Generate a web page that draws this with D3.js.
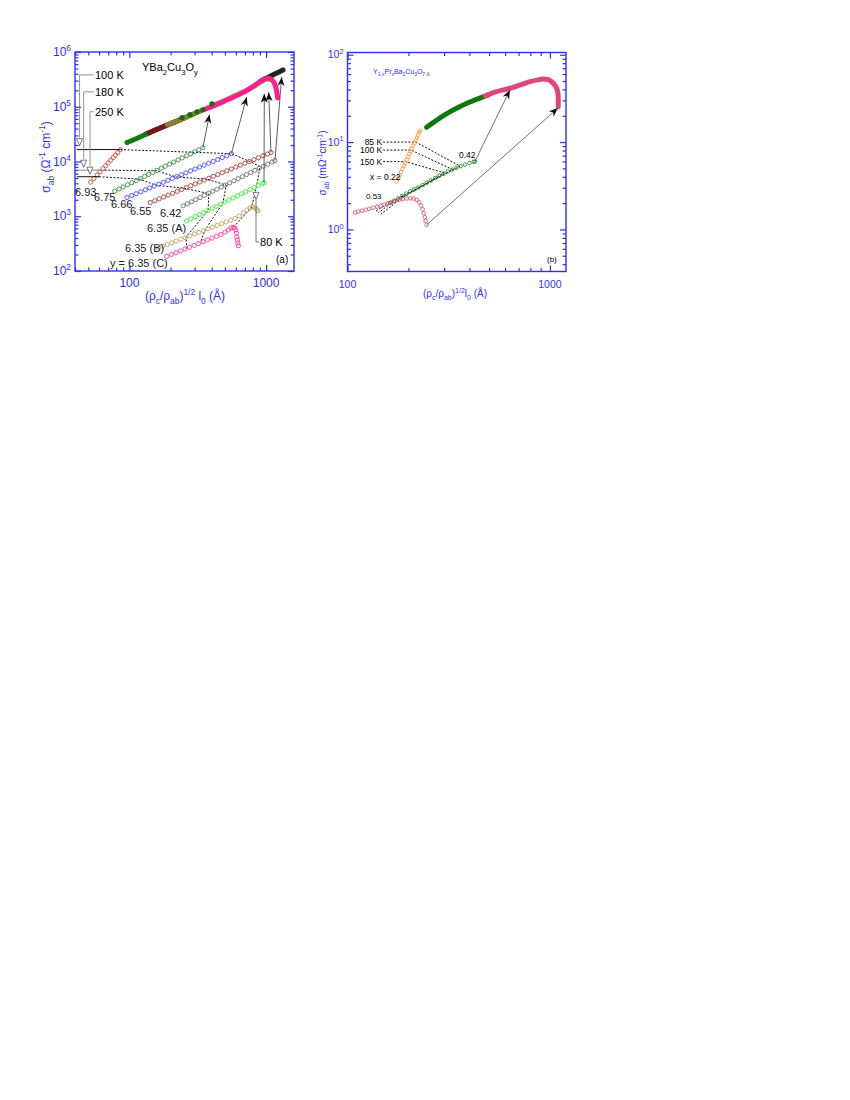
<!DOCTYPE html>
<html lang="en">
<head>
<meta charset="utf-8">
<title>sigma_ab scaling</title>
<style>
  body { margin: 0; background: #fff; }
  svg { display: block; font-family: "Liberation Sans", Arial, sans-serif; }
</style>
</head>
<body>
<script src="https://cdn.jsdelivr.net/npm/d3@7"></script>
<script>
// ---------- panel (a): YBa2Cu3Oy, open symbols = low temperature data
const a693 = [[52,4200],[55,4890],[58,5650],[61,6480],[64,7390],[67,8370],[70,9430],[73,10570],[76,11790],[79,13100],[82,14500],[86,16500]]
const a675 = [[78,2870],[84,3150],[90,3430],[97,3760],[104,4090],[112,4480],[120,4880],[129,5340],[138,5800],[148,6310],[159,6890],[171,7550],[183,8190],[197,8970],[211,9770],[227,10700],[243,11600],[261,12700],[280,13800],[300,15100],[322,16400],[345,17900]]
const a666 = [[96,2200],[104,2390],[112,2580],[121,2800],[131,3040],[141,3290],[152,3560],[164,3850],[177,4170],[191,4520],[206,4900],[222,5290],[240,5740],[259,6210],[280,6740],[302,7300],[326,7910],[352,8590],[380,9300],[410,10060],[443,10900],[478,11800],[516,12800],[557,13900]]
const a655 = [[142,1780],[153,1920],[165,2080],[178,2250],[192,2430],[207,2630],[224,2850],[241,3080],[260,3330],[281,3610],[303,3900],[327,4220],[353,4570],[381,4940],[411,5350],[443,5770],[478,6240],[516,6770],[557,7310],[601,7910],[648,8560],[700,9260],[755,10000],[815,10800],[879,11700],[949,12700],[1024,13700],[1086,14600]]
const a642 = [[247,1550],[265,1680],[285,1840],[306,2010],[329,2200],[353,2400],[379,2620],[407,2860],[437,3120],[469,3410],[504,3720],[541,4060],[581,4440],[624,4850],[670,5290],[719,5780],[772,6310],[829,6890],[890,7500],[956,8200],[1026,8950],[1102,9780],[1160,10400]]
const a635A = [[262,822],[282,900],[303,984],[325,1070],[349,1170],[375,1280],[403,1400],[432,1520],[464,1660],[498,1810],[535,1980],[574,2160],[616,2360],[662,2570],[710,2800],[762,3060],[818,3340],[878,3640],[942,3970],[966,4100]]
const a635B = [[162,262],[175,283],[189,304],[204,327],[220,352],[238,380],[257,408],[277,439],[299,472],[323,508],[349,548],[376,588],[406,634],[438,681],[473,733],[510,788],[550,847],[592,916],[635,1010],[680,1150],[725,1300],[765,1430],[795,1475],[830,1420],[855,1330],[873,1250]]
const a635C = [[188,185],[203,200],[219,216],[236,233],[255,253],[275,272],[297,294],[320,317],[346,343],[373,371],[402,399],[434,431],[468,466],[500,513],[530,562],[555,610],[575,624],[590,610],[600,560],[607,490],[612,420],[617,370],[622,325],[627,289]]
const openColorsA = ['#e4483e', '#3c8c4c', '#4646ff', '#a8403c', '#6e6e6e', '#3cee3c', '#bca464', '#ff3c9c']
const sampleLabels = ['6.93', '6.75', '6.66', '6.55', '6.42', '6.35 (A)', '6.35 (B)', 'y = 6.35 (C)']

// scaled high temperature data (thick traces)
const tGreen = [[96,22100],[105,24300],[115,26800],[125,29600],[135,32300],[148,35800]]
const tBlue = [[132,31600],[150,36500],[170,41500],[192,47100],[215,53000]]
const tRed = [[140,33600],[160,38800],[180,44000],[200,49000],[225,55300],[250,62000]]
const tOlive = [[190,46600],[220,54200],[250,62000],[290,72600],[330,83500]]
const tLime = [[200,48500],[260,64000],[330,83000],[400,103000],[500,131000],[600,163000],[725,199000],[850,252000],[950,302000],[1010,322000],[1050,316000]]
const tPink = [[357,90000],[420,106000],[500,128000],[600,157000],[725,200000],[850,258000],[950,310000],[1037,333000],[1100,312000],[1160,255000],[1195,192000],[1215,144000]]
const tBlack = [[900,288000],[1000,331000],[1100,372000],[1200,415000],[1330,471000]]
const dotsGreen = [[243,63100],[277,71600],[312,81100],[345,88200],[402,113500]]

// arrows low-T end -> scaled curve
const arrowsA = [[[345,17900],[385,72000]], [[557,13900],[721,150000]], [[966,4100],[970,172000]], [[1086,14600],[1045,184000]], [[1160,10400],[1300,350000]]]
// isotherms (dotted)
const iso100A = [[86,16500],[557,13900],[762,10000],[902,8100],[857,3800],[785,1475],[575,624]]
const iso180A = [[66,6950],[157,6800],[219,5220],[369,4770],[511,3700],[483,1760],[357,558],[330,326]]
const iso250A = [[60,5270],[118,4780],[157,3680],[251,3250],[381,2600],[377,1290],[259,410],[263,255]]

// ---------- panel (b): Y1-xPrxBa2Cu3O7-d
const b022 = [[175,3.52],[178,3.84],[181,4.18],[184,4.54],[187,4.93],[190,5.35],[193,5.79],[196,6.26],[199,6.77],[202,7.30],[205,7.87],[208,8.47],[211,9.11],[214,9.78],[217,10.5],[220,11.2],[223,12.0],[226,12.9],[228,13.5]]
const b042 = [[162,2.0],[170,2.13],[178,2.27],[186,2.41],[195,2.57],[204,2.73],[214,2.88],[224,3.03],[235,3.22],[246,3.42],[258,3.64],[271,3.88],[284,4.12],[298,4.36],[313,4.6],[329,4.83],[345,5.06],[362,5.3],[380,5.52],[400,5.74],[420,5.94],[426,6.0]]
const b053 = [[109,1.56],[113,1.6],[118,1.64],[123,1.68],[128,1.72],[134,1.77],[140,1.82],[146,1.87],[152,1.93],[158,1.99],[165,2.06],[172,2.12],[180,2.18],[188,2.23],[196,2.26],[204,2.27],[212,2.25],[220,2.18],[226,2.05],[231,1.88],[235,1.7],[238,1.53],[241,1.38],[243,1.25],[246,1.13]]
const openColorsB = ['#ff9a3c', '#2e8a2e', '#e0587e']
const bThickGreen = [[246,14.8],[265,16.7],[290,19.3],[320,22.2],[360,25.6],[400,28.6],[450,31.9],[495,34.6]]
const bThickPink = [[480,33.8],[540,37.5],[634,41.3],[720,45.5],[796,49.1],[870,51.5],[926,52.7],[980,51.8],[1019,49.1],[1055,45],[1079,41.3],[1095,36],[1099,30],[1099,25.4]]
const arrowsB = [[[426,6.0],[634,39.4]], [[246,1.13],[1095,24.5]]]
const isoLabelsB = ['85 K', '100 K', '150 K']
const isoB = [
  [[150,10.0],[217,10.0],[360,5.3],[160,2.0],[138,1.62]],
  [[150,8.1],[206,8.1],[330,4.85],[170,2.12],[142,1.55]],
  [[150,5.97],[194,5.97],[300,4.45],[180,2.18],[146,1.49]]
]

const blue = '#2e2eff'
const W = 850, H = 1100

const xA = d3.scaleLog().domain([40, 1600]).range([75, 294])
const yA = d3.scaleLog().domain([100, 1e6]).range([271, 52])
const xB = d3.scaleLog().domain([100, 1200]).range([347.5, 566])
const yB = d3.scaleLog().domain([0.33, 106]).range([271.5, 52.5])

const svg = d3.select('body').append('svg').attr('width', W).attr('height', H)

svg.append('defs').append('marker')
  .attr('id', 'ah').attr('viewBox', '-10 -5 10 10')
  .attr('refX', 0).attr('refY', 0)
  .attr('markerWidth', 10).attr('markerHeight', 10)
  .attr('markerUnits', 'userSpaceOnUse').attr('orient', 'auto')
  .append('path').attr('d', 'M0,0L-9,-3.6L-6.4,0L-9,3.6Z').attr('fill', '#111')

// text with sub/superscripts
function rich(t, parts, fs) {
  let shift = 0
  parts.forEach(([s, k]) => {
    const target = k === 'sub' ? fs * 0.32 : k === 'sup' ? -fs * 0.42 : 0
    t.append('tspan').attr('dy', target - shift)
      .attr('font-size', k ? fs * 0.7 : fs).text(s)
    shift = target
  })
  return t
}

function minors(lo, hi) {
  const out = []
  for (let d = Math.pow(10, Math.floor(Math.log10(lo))); d < hi; d *= 10)
    for (let m = 2; m <= 9; m++) if (m * d >= lo && m * d <= hi) out.push(+(m * d).toPrecision(3))
  return out
}

function frame(x, y, xMaj, yMaj, fs) {
  const g = svg.append('g')
  const [xl, xr] = x.range(), [yb, yt] = y.range()
  const xMin = minors(...x.domain()), yMin = minors(...y.domain())
  const put = (axis, tr) => g.append('g').attr('transform', tr).call(axis)
    .call(s => { s.select('.domain').remove(); s.selectAll('line').attr('stroke', blue).attr('stroke-width', 1.2); s.selectAll('text').remove() })
  ;[[xMaj, 6], [xMin, 3.5]].forEach(([v, k]) => {
    put(d3.axisBottom(x).tickValues(v).tickSize(-k), `translate(0,${yb})`)
    put(d3.axisTop(x).tickValues(v).tickSize(-k), `translate(0,${yt})`)
  })
  ;[[yMaj, 6], [yMin, 3.5]].forEach(([v, k]) => {
    put(d3.axisLeft(y).tickValues(v).tickSize(-k), `translate(${xl},0)`)
    put(d3.axisRight(y).tickValues(v).tickSize(-k), `translate(${xr},0)`)
  })
  g.append('rect').attr('x', xl).attr('y', yt).attr('width', xr - xl).attr('height', yb - yt)
    .attr('fill', 'none').attr('stroke', blue).attr('stroke-width', 1.4)
  g.selectAll('.xl').data(xMaj).join('text')
    .attr('x', d => x(d)).attr('y', yb + 16).attr('text-anchor', 'middle')
    .attr('fill', blue).attr('font-size', fs).text(d => d)
  yMaj.forEach(d => {
    const t = g.append('text').attr('x', xl - 4).attr('y', y(d) + fs * 0.35)
      .attr('text-anchor', 'end').attr('fill', blue).attr('font-size', fs)
    rich(t, [['10'], [Math.round(Math.log10(d)), 'sup']], fs)
  })
  return g
}

function openSeries(x, y, data, color, r) {
  svg.append('g').selectAll('circle').data(data).join('circle')
    .attr('cx', d => x(d[0])).attr('cy', d => y(d[1])).attr('r', r)
    .attr('fill', 'none').attr('stroke', color).attr('stroke-width', 0.9)
}

function thick(x, y, data, color, w) {
  svg.append('path').datum(data)
    .attr('d', d3.line().x(d => x(d[0])).y(d => y(d[1])).curve(d3.curveCatmullRom))
    .attr('fill', 'none').attr('stroke', color).attr('stroke-width', w)
    .attr('stroke-linecap', 'round').attr('stroke-linejoin', 'round')
}

function dotted(x, y, data) {
  svg.append('path').datum(data)
    .attr('d', d3.line().x(d => x(d[0])).y(d => y(d[1])))
    .attr('fill', 'none').attr('stroke', '#111').attr('stroke-width', 1)
    .attr('stroke-dasharray', '2,1.6')
}

function arrows(x, y, data, w) {
  svg.append('g').selectAll('line').data(data).join('line')
    .attr('x1', d => x(d[0][0])).attr('y1', d => y(d[0][1]))
    .attr('x2', d => x(d[1][0])).attr('y2', d => y(d[1][1]))
    .attr('stroke', '#333').attr('stroke-width', w).attr('marker-end', 'url(#ah)')
}

// ================= panel (a)
frame(xA, yA, [100, 1000], [100, 1000, 1e4, 1e5, 1e6], 12)

;[tBlue, tGreen, tLime, tRed, tOlive, tBlack, tPink].forEach((d, i) =>
  thick(xA, yA, d, ['#1818e8', '#147a14', '#55ee33', '#7c1414', '#8c7c34', '#222', '#ff1f90'][i], 5))
svg.append('g').selectAll('circle').data(dotsGreen).join('circle')
  .attr('cx', d => xA(d[0])).attr('cy', d => yA(d[1])).attr('r', 2.6).attr('fill', '#146c14')

;[iso100A, iso180A, iso250A].forEach(d => dotted(xA, yA, d))
;[a693, a675, a666, a655, a642, a635A, a635B, a635C].forEach((d, i) => openSeries(xA, yA, d, openColorsA[i], 2.1))
arrows(xA, yA, arrowsA, 0.8)

// temperature call-outs at the left
const calloutA = [['100 K', 382000, 43.2, 22100, 16500, 86, '#111'], ['180 K', 187000, 46.3, 8930, 6950, 66, '#888'], ['250 K', 81100, 51.5, 6670, 5270, 60, '#111']]
calloutA.forEach(([lab, yl, xv, ytri, ybar, xbar, c]) => {
  svg.append('text').attr('x', 95).attr('y', yA(yl) + 4).attr('font-size', 11).text(lab)
  svg.append('path').attr('d', `M${xA(55)},${yA(yl)}H${xA(xv)}V${yA(ytri) - 5}`)
    .attr('fill', 'none').attr('stroke', '#777').attr('stroke-width', 0.8)
  const tx = xA(xv), ty = yA(ytri)
  svg.append('path').attr('d', `M${tx - 3},${ty - 4}L${tx + 3},${ty - 4}L${tx},${ty + 3}Z`)
    .attr('fill', '#fff').attr('stroke', '#555').attr('stroke-width', 0.8)
  svg.append('line').attr('x1', xA(41.2)).attr('x2', xA(xbar)).attr('y1', yA(ybar)).attr('y2', yA(ybar))
    .attr('stroke', c).attr('stroke-width', 1)
})
// 80 K call-out
{
  const tx = xA(844), ty = yA(2310)
  svg.append('path').attr('d', `M${tx - 3},${ty - 4}L${tx + 3},${ty - 4}L${tx},${ty + 3}Z`)
    .attr('fill', '#fff').attr('stroke', '#555').attr('stroke-width', 0.8)
  svg.append('path').attr('d', `M${tx},${ty + 3}V${yA(340)}H${tx + 3}`)
    .attr('fill', 'none').attr('stroke', '#555').attr('stroke-width', 0.8)
  svg.append('text').attr('x', tx + 4).attr('y', yA(340) + 4).attr('font-size', 11).text('80 K')
}

const labelPosA = [[75, 196], [94, 201], [111, 208], [130, 215], [160, 217], [147, 232], [125, 252], [110, 267]]
sampleLabels.forEach((s, i) => svg.append('text').attr('x', labelPosA[i][0]).attr('y', labelPosA[i][1])
  .attr('font-size', 11).attr('fill', '#222').text(s))

rich(svg.append('text').attr('x', 142).attr('y', 71).attr('font-size', 11),
  [['YBa'], ['2', 'sub'], ['Cu'], ['3', 'sub'], ['O'], ['y', 'sub']], 11)
svg.append('text').attr('x', 276).attr('y', 263).attr('font-size', 10).text('(a)')

rich(svg.append('text').attr('x', 185).attr('y', 300).attr('text-anchor', 'middle').attr('fill', blue),
  [['(ρ'], ['c', 'sub'], ['/ρ'], ['ab', 'sub'], [')'], ['1/2', 'sup'], [' l'], ['0', 'sub'], [' (Å)']], 12)
rich(svg.append('text').attr('transform', `translate(50,${157}) rotate(-90)`).attr('text-anchor', 'middle').attr('fill', blue),
  [['σ'], ['ab', 'sub'], [' (Ω'], ['-1', 'sup'], [' cm'], ['-1', 'sup'], [')']], 12)

// ================= panel (b)
frame(xB, yB, [100, 1000], [1, 10, 100], 10.5)

thick(xB, yB, bThickGreen, '#0b7a0b', 5)
thick(xB, yB, bThickPink, '#e0457c', 5)
isoB.forEach(d => dotted(xB, yB, d))
;[b022, b042, b053].forEach((d, i) => openSeries(xB, yB, d, openColorsB[i], 1.8))
arrows(xB, yB, arrowsB, 0.7)

isoLabelsB.forEach((s, i) => svg.append('text').attr('x', xB(isoB[i][0][0]) - 1).attr('y', yB(isoB[i][0][1]) + 3)
  .attr('text-anchor', 'end').attr('font-size', 8.5).text(s))
svg.append('text').attr('x', 370).attr('y', 180).attr('font-size', 8.5).text('x = 0.22')
svg.append('text').attr('x', 366).attr('y', 199).attr('font-size', 8).text('0.53')
svg.append('text').attr('x', 459).attr('y', 158).attr('font-size', 8.5).text('0.42')
svg.append('text').attr('x', 547).attr('y', 262).attr('font-size', 8).text('(b)')

rich(svg.append('text').attr('x', 373).attr('y', 74).attr('fill', blue),
  [['Y'], ['1-x', 'sub'], ['Pr'], ['x', 'sub'], ['Ba'], ['2', 'sub'], ['Cu'], ['3', 'sub'], ['O'], ['7-δ', 'sub']], 7)
rich(svg.append('text').attr('x', 455).attr('y', 297).attr('text-anchor', 'middle').attr('fill', blue),
  [['(ρ'], ['c', 'sub'], ['/ρ'], ['ab', 'sub'], [')'], ['1/2', 'sup'], ['l'], ['0', 'sub'], ['  (Å)']], 10)
rich(svg.append('text').attr('transform', `translate(326,${163}) rotate(-90)`).attr('text-anchor', 'middle').attr('fill', blue),
  [['σ'], ['ab', 'sub'], [' (mΩ'], ['-1', 'sup'], ['cm'], ['-1', 'sup'], [')']], 10)
</script>
</body>
</html>
